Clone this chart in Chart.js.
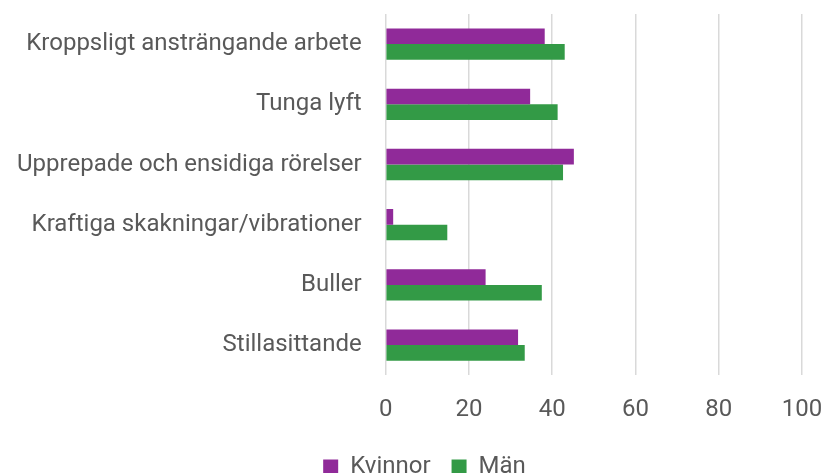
<!DOCTYPE html>
<html>
<head>
<meta charset="utf-8">
<script src="https://cdn.jsdelivr.net/npm/chart.js@4"></script>
<style>
  html, body { margin: 0; padding: 0; background: #fff; }
  #wrap { width: 823px; height: 473px; }
</style>
</head>
<body>
<div id="wrap"><canvas id="arbetsmiljo" width="823" height="473"></canvas></div>
<script>
const categories = [
    'Kroppsligt ansträngande arbete',
    'Tunga lyft',
    'Upprepade och ensidiga rörelser',
    'Kraftiga skakningar/vibrationer',
    'Buller',
    'Stillasittande'
];
const kvinnor = [38.2, 34.7, 45.2, 1.8, 24.0, 31.8];
const man = [43.0, 41.3, 42.6, 14.8, 37.5, 33.4];
const xTicks = [0, 20, 40, 60, 80, 100];

// legend sits a bit right of the canvas centre in the original
const legendShift = {
    id: 'legendShift',
    afterLayout: function (chart) {
        chart.legend.left += 27;
        chart.legend.right += 27;
    }
};

const ctx = document.getElementById('arbetsmiljo').getContext('2d');
const chart = new Chart(ctx, {
    type: 'bar',
    data: {
        labels: categories,
        datasets: [
            {
                label: 'Kvinnor',
                data: kvinnor,
                backgroundColor: '#902a99',
                borderWidth: 0
            },
            {
                label: 'Män',
                data: man,
                backgroundColor: '#339a46',
                borderWidth: 0
            }
        ]
    },
    options: {
        indexAxis: 'y',
        responsive: false,
        animation: false,
        maintainAspectRatio: false,
        layout: {
            padding: { left: -7, right: 21, top: 14, bottom: -16 }
        },
        datasets: {
            bar: { categoryPercentage: 0.52, barPercentage: 1 }
        },
        scales: {
            x: {
                min: 0,
                max: 100,
                afterBuildTicks: function (axis) {
                    axis.ticks = xTicks.map(v => ({ value: v }));
                },
                afterFit: function (scale) {
                    scale.paddingLeft = 0;
                    scale.paddingRight = 0;
                    scale.height -= 10;
                },
                grid: { color: '#d9d9d9', lineWidth: 1.5, drawTicks: false },
                border: { display: false },
                ticks: {
                    padding: 20,
                    color: '#595959',
                    font: { family: 'Roboto', size: 24 }
                }
            },
            y: {
                afterFit: function (scale) {
                    scale.paddingTop = 0;
                    scale.paddingBottom = 0;
                },
                grid: { display: false, drawTicks: false },
                border: { display: false },
                ticks: {
                    padding: 24,
                    color: '#595959',
                    font: { family: 'Roboto', size: 24 }
                }
            }
        },
        plugins: {
            tooltip: { enabled: false },
            legend: {
                position: 'bottom',
                labels: {
                    boxWidth: 15,
                    boxHeight: 15,
                    padding: 21,
                    color: '#595959',
                    font: { family: 'Roboto', size: 24 }
                }
            }
        }
    },
    plugins: [legendShift]
});
</script>
</body>
</html>
